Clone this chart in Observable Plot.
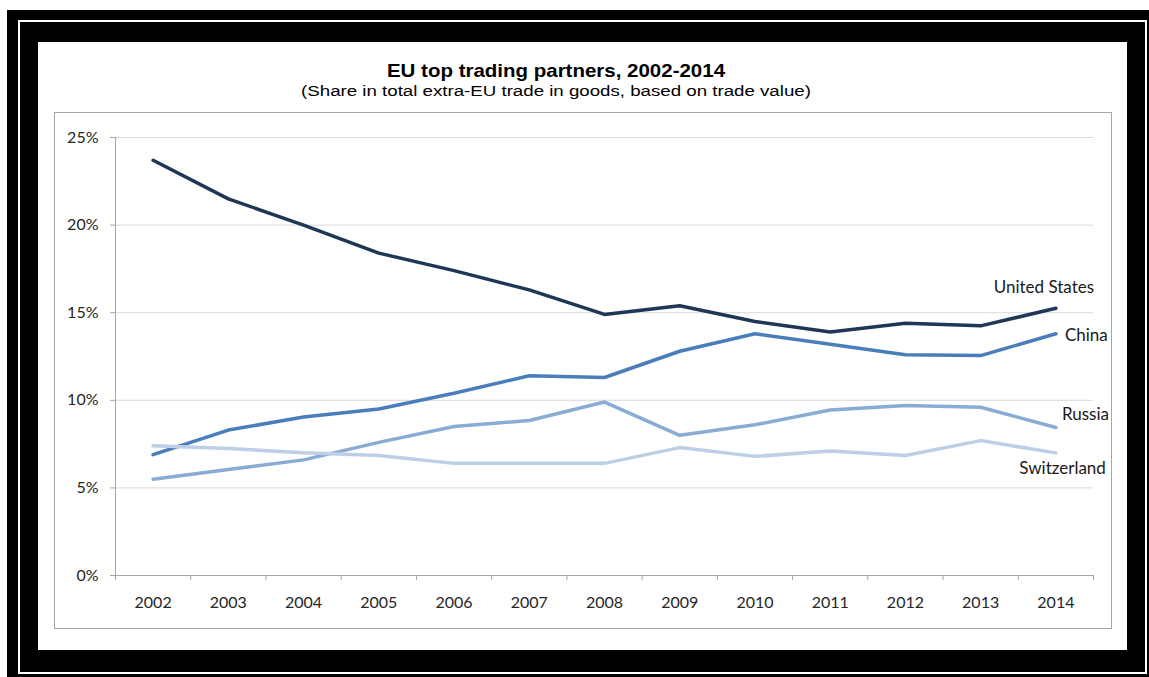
<!DOCTYPE html>
<html>
<head>
<meta charset="utf-8">
<script src="https://cdn.jsdelivr.net/npm/d3@7"></script>
<script src="https://cdn.jsdelivr.net/npm/@observablehq/plot@0.6"></script>
<style>
  html, body { margin: 0; padding: 0; background: #fff; width: 1149px; height: 677px; overflow: hidden; position: relative; }
  .blk { position: absolute; }
  #f1 { left: 7px; top: 10px; width: 1142px; height: 667px; background: #000; }
  #f2 { left: 18px; top: 20px; width: 1129px; height: 654px; background: #fff; }
  #f3 { left: 20px; top: 22px; width: 1125px; height: 650px; background: #000; }
  #f4 { left: 38px; top: 42px; width: 1089px; height: 608px; background: #fff; }
  #title { position: absolute; left: 0; width: 1112px; top: 63px; text-align: center;
           font: bold 19px/16px "Liberation Sans", Arial, sans-serif; color: #000;
           transform: scaleX(1.078); transform-origin: 556px 50%; }
  #subtitle { position: absolute; left: 0; width: 1112px; top: 83.8px; text-align: center;
              font: 15.5px/14px "Liberation Sans", Arial, sans-serif; color: #000;
              transform: scaleX(1.205); transform-origin: 556px 50%; }
  #chart { position: absolute; left: 54px; top: 112px; width: 1056px; height: 515px; border: 1px solid #a6a6a6; background: #fff; }
  #chart svg { display: block; overflow: visible; }
</style>
</head>
<body>
<div class="blk" id="f1"></div>
<div class="blk" id="f2"></div>
<div class="blk" id="f3"></div>
<div class="blk" id="f4"></div>
<div id="title">EU top trading partners, 2002-2014</div>
<div id="subtitle">(Share in total extra-EU trade in goods, based on trade value)</div>
<div id="chart"></div>
<script>
const years = [2002, 2003, 2004, 2005, 2006, 2007, 2008, 2009, 2010, 2011, 2012, 2013, 2014];
const yearEdges = [2001.5, 2002.5, 2003.5, 2004.5, 2005.5, 2006.5, 2007.5, 2008.5, 2009.5, 2010.5, 2011.5, 2012.5, 2013.5, 2014.5];
const yTicks = [0, 0.05, 0.10, 0.15, 0.20, 0.25];

const unitedStates = [23.7, 21.5, 20.0, 18.4, 17.4, 16.3, 14.9, 15.4, 14.5, 13.9, 14.4, 14.25, 15.25];
const china        = [6.9, 8.3, 9.05, 9.5, 10.4, 11.4, 11.3, 12.8, 13.8, 13.2, 12.6, 12.55, 13.8];
const russia       = [5.5, 6.05, 6.6, 7.6, 8.5, 8.85, 9.9, 8.0, 8.6, 9.45, 9.7, 9.6, 8.45];
const switzerland  = [7.4, 7.25, 7.0, 6.85, 6.4, 6.4, 6.4, 7.3, 6.8, 7.1, 6.85, 7.7, 7.0];

const seriesNames = ["United States", "China", "Russia", "Switzerland"];
const seriesValues = [unitedStates, china, russia, switzerland];
const seriesColors = ["#1f3756", "#4a7ebb", "#88acd6", "#bccfe7"];

const data = seriesNames.flatMap((name, i) =>
  years.map((year, j) => ({ name, year, value: seriesValues[i][j] / 100 }))
);
const lastPoints = seriesNames.map((name, i) => ({ name, year: years[years.length - 1], value: seriesValues[i][years.length - 1] / 100 }));

const labelStyle = {
  "United States": { textAnchor: "middle", dx: -12, dy: -21 },
  "China":         { textAnchor: "start",  dx: 9,   dy: 2 },
  "Russia":        { textAnchor: "start",  dx: 6,   dy: -13 },
  "Switzerland":   { textAnchor: "end",    dx: 50,  dy: 16 }
};

const gray = "#a6a6a6";

const chart = Plot.plot({
  width: 1056,
  height: 515,
  marginLeft: 60,
  marginRight: 18,
  marginTop: 24,
  marginBottom: 53,
  x: { domain: [2001.5, 2014.5], axis: null, label: null },
  y: { domain: [0, 0.25], axis: null, label: null },
  color: { domain: seriesNames, range: seriesColors },
  style: { fontFamily: "Lato, 'Open Sans', sans-serif", fontSize: "16px", background: "#fff", overflow: "visible" },
  marks: [
    Plot.gridY(yTicks.filter(d => d > 0), { stroke: "#d9d9d9", strokeOpacity: 1, strokeWidth: 1 }),
    Plot.ruleX([2001.5], { stroke: gray, strokeWidth: 1 }),
    Plot.ruleY([0], { stroke: gray, strokeWidth: 1 }),
    Plot.axisY(yTicks, {
      label: null, tickSize: 5, tickPadding: 12, stroke: gray, fill: "#262626",
      tickFormat: d => Math.round(d * 100) + "%", fontSize: 16
    }),
    Plot.axisX(yearEdges, { label: null, tickSize: 5, stroke: gray, tickFormat: () => "" }),
    Plot.axisX(years, { label: null, tickSize: 0, tickPadding: 21, fill: "#262626", tickFormat: d => String(d), fontSize: 16 }),
    Plot.lineY(data, {
      x: "year", y: "value", z: "name", stroke: "name",
      strokeWidth: 3.5, strokeLinejoin: "round", strokeLinecap: "round"
    }),
    ...lastPoints.map(p => Plot.text([p], {
      x: "year", y: "value", text: "name",
      fill: "#1a1a1a", fontSize: 17,
      textAnchor: labelStyle[p.name].textAnchor,
      dx: labelStyle[p.name].dx, dy: labelStyle[p.name].dy
    }))
  ]
});

document.getElementById("chart").appendChild(chart);
</script>
</body>
</html>
